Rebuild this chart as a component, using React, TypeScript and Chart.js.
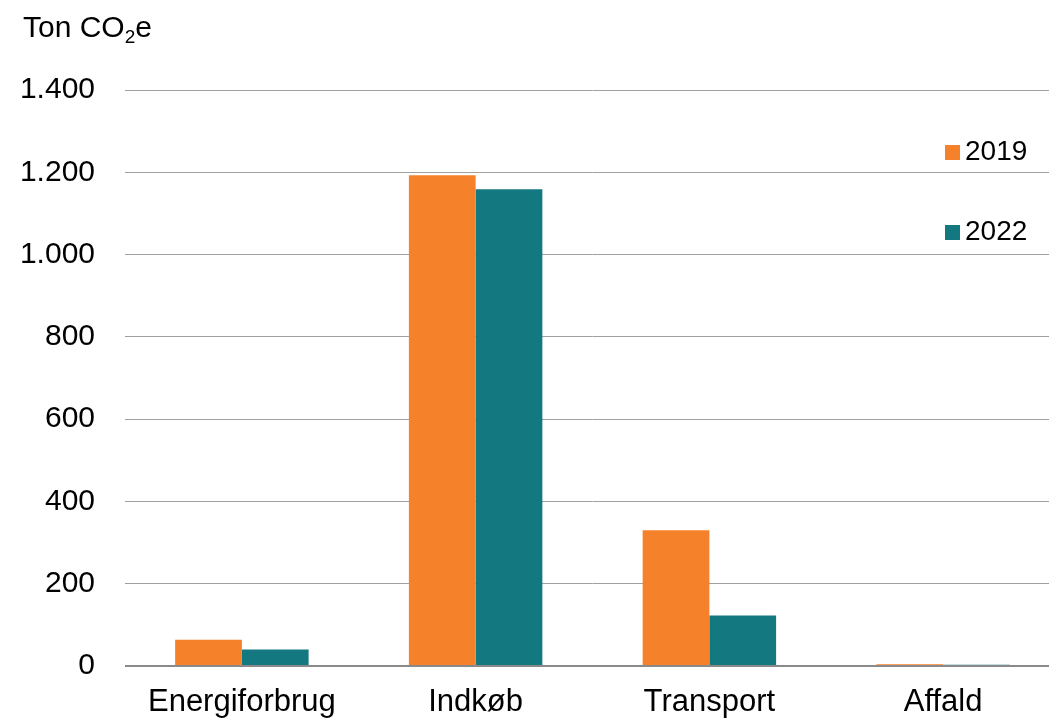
import React, { useEffect, useRef } from "react";
import { Chart, registerables } from "chart.js";

Chart.register(...registerables);

const categories = ["Energiforbrug", "Indkøb", "Transport", "Affald"];
const seriesLabels = ["2019", "2022"];
const values2019 = [64, 1193, 330, 4];
const values2022 = [40, 1159, 123, 3];
const seriesColors = ["#F5812A", "#137880"];
const yTicks = [0, 200, 400, 600, 800, 1000, 1200, 1400];
const titleMain = "Ton CO";
const titleSub = "2";
const titleEnd = "e";

const FONT = "'Liberation Sans', Arial, sans-serif";

const legendPlugin = {
  id: "customLegend",
  afterDraw(chart: any) {
    const ctx = chart.ctx;
    ctx.save();
    ctx.font = `28px ${FONT}`;
    ctx.textBaseline = "alphabetic";
    ctx.textAlign = "left";
    const tops = [145, 225];
    chart.data.datasets.forEach((ds: any, i: number) => {
      ctx.fillStyle = ds.backgroundColor;
      ctx.fillRect(945, tops[i], 15, 15);
      ctx.fillStyle = "#000";
      ctx.fillText(ds.label, 965, tops[i] + 15);
    });
    // axis title with subscript
    ctx.font = `30px ${FONT}`;
    let x = 23;
    ctx.fillText(titleMain, x, 37);
    x += ctx.measureText(titleMain).width;
    ctx.font = `19px ${FONT}`;
    ctx.fillText(titleSub, x, 43);
    x += ctx.measureText(titleSub).width;
    ctx.font = `30px ${FONT}`;
    ctx.fillText(titleEnd, x, 37);
    ctx.restore();
  },
};

export default function App() {
  const ref = useRef<HTMLCanvasElement>(null);
  useEffect(() => {
    const chart = new Chart(ref.current!, {
      type: "bar",
      data: {
        labels: categories,
        datasets: [
          { label: seriesLabels[0], data: values2019, backgroundColor: seriesColors[0] },
          { label: seriesLabels[1], data: values2022, backgroundColor: seriesColors[1] },
        ],
      },
      options: {
        animation: false,
        responsive: false,
        maintainAspectRatio: false,
        layout: { padding: { top: 90, right: 0, left: 0, bottom: 0 } },
        plugins: { legend: { display: false }, tooltip: { enabled: false } },
        datasets: { bar: { barPercentage: 1, categoryPercentage: 0.571 } },
        scales: {
          x: {
            grid: { display: false, drawTicks: false },
            border: { display: false },
            ticks: { font: { family: FONT, size: 31 }, color: "#000", padding: 18 },
            afterFit: (s: any) => { s.height = 55; },
          },
          y: {
            min: 0,
            max: 1400,
            afterBuildTicks: (s: any) => { s.ticks = yTicks.map((v) => ({ value: v })); },
            grid: {
              drawTicks: false,
              color: (c: any) => (c.tick && c.tick.value === 0 ? "#8a8a8a" : "#a0a0a0"),
              lineWidth: (c: any) => (c.tick && c.tick.value === 0 ? 2 : 1),
            },
            border: { display: false },
            ticks: {
              font: { family: FONT, size: 30 },
              color: "#000",
              padding: 30,
              callback: (v: any) => Number(v).toLocaleString("da-DK"),
            },
            afterFit: (s: any) => { s.width = 125; },
          },
        },
      },
      plugins: [legendPlugin],
    });
    return () => chart.destroy();
  }, []);
  return (
    <div style={{ position: "absolute", left: 0, top: 0, width: 1049, height: 721, overflow: "hidden", background: "#fff" }}>
      <canvas ref={ref} width={1060} height={721} style={{ display: "block" }} />
    </div>
  );
}
